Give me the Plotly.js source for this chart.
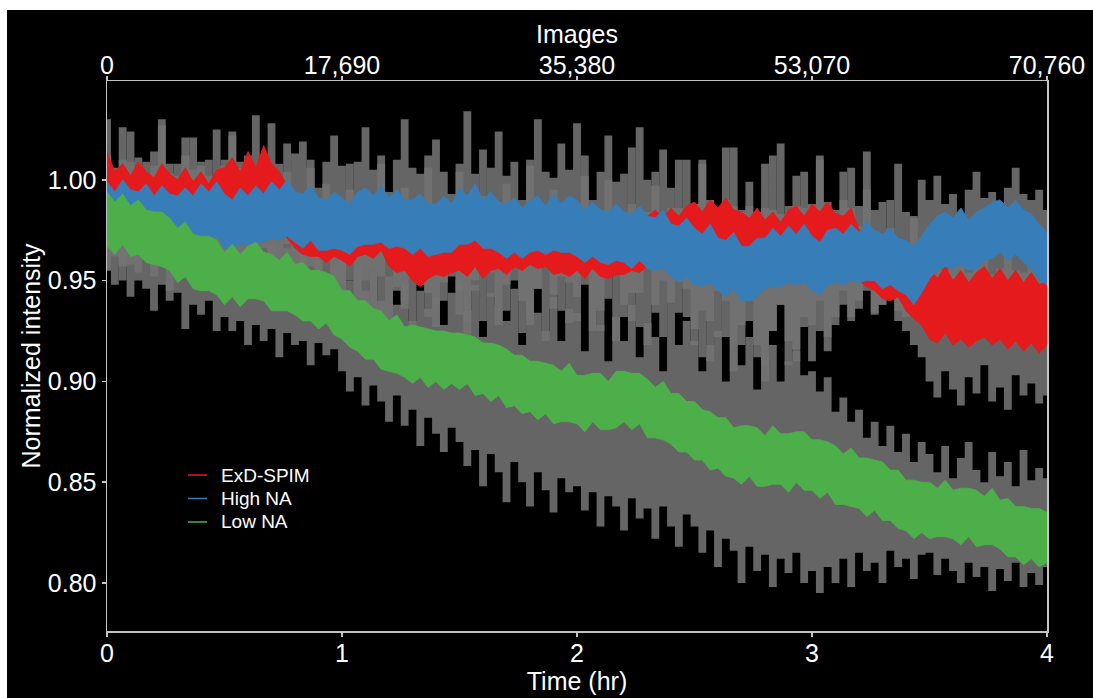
<!DOCTYPE html>
<html>
<head>
<meta charset="utf-8">
<script src="https://cdn.plot.ly/plotly-3.0.1.min.js"></script>
<style>
html,body{margin:0;padding:0;background:#ffffff;width:1093px;height:698px;overflow:hidden;}
#chart{position:absolute;left:7px;top:10px;width:1086px;height:688px;background:#000;}
</style>
</head>
<body>
<div id="chart"></div>
<script>
// time in minutes (2-minute samples, 0..240 min = 0..4 hr)
const timeMin = [0,2,4,6,8,10,12,14,16,18,20,22,24,26,28,
30,32,34,36,38,40,42,44,46,48,50,52,54,56,58,
60,62,64,66,68,70,72,74,76,78,80,82,84,86,88,
90,92,94,96,98,100,102,104,106,108,110,112,114,116,118,
120,122,124,126,128,130,132,134,136,138,140,142,144,146,148,
150,152,154,156,158,160,162,164,166,168,170,172,174,176,178,
180,182,184,186,188,190,192,194,196,198,200,202,204,206,208,
210,212,214,216,218,220,222,224,226,228,230,232,234,236,238,
240];

const seriesNames = ['ExD-SPIM','High NA','Low NA'];
const seriesColors = ['#e41a1c','#377eb8','#4daf4a'];

// ExD-SPIM: envelope of the noisy mean trace (upper / lower)
const exdHi = [1.014,1.004,1.008,1.002,1.009,1.004,1.001,1.008,1.003,1.000,1.006,0.999,1.004,0.998,1.005,
1.006,1.011,1.004,1.014,1.006,1.017,1.008,1.004,0.997,0.994,0.988,0.986,0.988,0.982,0.987,
0.983,0.978,0.985,0.987,0.982,0.989,0.980,0.978,0.981,0.974,0.972,0.975,0.979,0.974,0.980,
0.982,0.976,0.981,0.975,0.979,0.982,0.976,0.983,0.978,0.984,0.979,0.983,0.976,0.980,0.975,
0.980,0.975,0.981,0.976,0.974,0.979,0.975,0.980,0.976,0.982,0.985,0.981,0.986,0.982,0.987,
0.989,0.984,0.990,0.986,0.991,0.985,0.984,0.981,0.986,0.980,0.984,0.979,0.985,0.987,0.982,
0.988,0.984,0.989,0.983,0.982,0.986,0.975,0.973,0.969,0.968,0.965,0.970,0.961,0.960,0.956,
0.956,0.951,0.957,0.950,0.955,0.949,0.954,0.957,0.951,0.956,0.950,0.955,0.949,0.954,0.948,
0.950];
const exdLo = [0.988,0.984,0.990,0.985,0.989,0.983,0.987,0.982,0.986,0.981,0.984,0.979,0.983,0.978,0.982,
0.985,0.989,0.983,0.990,0.985,0.988,0.981,0.976,0.971,0.966,0.963,0.962,0.962,0.959,0.962,
0.960,0.957,0.962,0.963,0.961,0.965,0.957,0.954,0.955,0.950,0.947,0.951,0.953,0.952,0.954,
0.955,0.952,0.957,0.951,0.955,0.956,0.953,0.957,0.955,0.958,0.956,0.957,0.953,0.954,0.952,
0.955,0.951,0.956,0.952,0.951,0.953,0.953,0.955,0.954,0.957,0.961,0.958,0.962,0.960,0.963,
0.962,0.961,0.964,0.963,0.965,0.962,0.959,0.958,0.960,0.957,0.958,0.957,0.960,0.962,0.959,
0.963,0.960,0.964,0.959,0.958,0.959,0.950,0.947,0.945,0.941,0.940,0.942,0.935,0.931,0.928,
0.921,0.919,0.924,0.918,0.921,0.917,0.920,0.922,0.918,0.921,0.916,0.920,0.915,0.919,0.914,
0.918];
// ExD-SPIM: spread band (upper / lower)
const exdBandHi = [1.030,1.006,1.010,1.024,1.004,1.009,1.007,1.027,1.003,1.008,1.021,1.005,1.009,1.002,1.025,
1.007,1.022,1.009,1.012,1.032,1.008,1.000,0.996,1.018,0.988,0.986,1.010,0.984,0.998,0.985,
0.983,1.008,0.984,0.986,0.981,1.012,0.985,0.979,0.996,0.976,0.978,1.006,0.977,0.980,0.974,
1.004,0.980,0.978,1.015,0.981,0.976,0.998,0.982,0.979,1.010,0.977,0.981,0.995,0.978,0.980,
0.979,1.012,0.981,0.977,1.000,0.980,0.978,1.016,0.982,0.984,1.004,0.983,0.986,1.010,0.985,
0.988,1.008,0.990,0.986,1.016,0.987,0.985,0.999,0.984,0.986,1.012,0.983,0.987,1.002,0.986,
0.987,1.010,0.989,0.985,1.004,0.986,0.977,0.995,0.972,0.970,0.990,0.968,0.963,0.982,0.960,
0.957,0.975,0.955,0.958,0.970,0.954,0.957,0.972,0.953,0.956,0.968,0.955,0.954,0.970,0.952,
0.955];
const exdBandLo = [0.962,0.970,0.958,0.966,0.960,0.972,0.956,0.964,0.968,0.955,0.963,0.970,0.958,0.961,0.966,
0.962,0.955,0.968,0.960,0.957,0.966,0.950,0.955,0.946,0.952,0.942,0.950,0.938,0.947,0.940,
0.936,0.950,0.930,0.938,0.955,0.933,0.928,0.945,0.936,0.925,0.948,0.932,0.927,0.940,0.952,
0.933,0.922,0.945,0.930,0.954,0.928,0.935,0.950,0.924,0.931,0.946,0.920,0.936,0.952,0.929,
0.930,0.948,0.925,0.935,0.952,0.920,0.932,0.944,0.927,0.918,0.938,0.950,0.926,0.934,0.946,
0.918,0.935,0.910,0.922,0.940,0.905,0.918,0.930,0.912,0.900,0.925,0.938,0.908,0.916,0.932,
0.910,0.925,0.915,0.928,0.938,0.932,0.940,0.945,0.934,0.938,0.942,0.930,0.925,0.918,0.912,
0.900,0.892,0.905,0.896,0.888,0.902,0.894,0.908,0.890,0.897,0.886,0.903,0.893,0.899,0.889,
0.893];

// High NA
const highHi = [0.999,0.994,1.000,0.995,0.994,0.998,0.992,0.997,0.993,0.992,0.996,0.992,0.998,0.994,0.999,
0.993,0.990,0.996,0.992,0.997,0.993,0.999,0.995,1.000,0.994,0.993,0.997,0.991,0.990,0.994,
0.991,0.988,0.994,0.996,0.992,0.997,0.991,0.995,0.990,0.990,0.993,0.988,0.988,0.992,0.988,
0.996,0.992,0.998,0.990,0.994,0.989,0.988,0.991,0.986,0.990,0.992,0.987,0.993,0.988,0.992,
0.990,0.985,0.989,0.985,0.984,0.988,0.984,0.983,0.987,0.982,0.981,0.985,0.978,0.977,0.981,
0.976,0.973,0.978,0.971,0.970,0.974,0.967,0.967,0.971,0.971,0.976,0.972,0.977,0.973,0.978,
0.972,0.969,0.975,0.976,0.973,0.978,0.974,0.979,0.975,0.973,0.976,0.971,0.970,0.967,0.972,
0.978,0.982,0.984,0.981,0.986,0.980,0.984,0.986,0.989,0.990,0.986,0.990,0.985,0.983,0.978,
0.974];
const highLo = [0.972,0.969,0.973,0.968,0.968,0.970,0.967,0.969,0.968,0.965,0.969,0.966,0.971,0.968,0.972,
0.966,0.966,0.968,0.968,0.969,0.969,0.971,0.970,0.972,0.969,0.966,0.970,0.965,0.965,0.966,
0.965,0.963,0.967,0.968,0.968,0.969,0.966,0.967,0.966,0.963,0.966,0.962,0.963,0.964,0.964,
0.968,0.968,0.970,0.966,0.966,0.964,0.961,0.964,0.961,0.964,0.965,0.963,0.965,0.964,0.964,
0.962,0.959,0.962,0.959,0.958,0.960,0.959,0.956,0.960,0.956,0.955,0.956,0.952,0.949,0.952,
0.948,0.947,0.949,0.945,0.942,0.946,0.940,0.940,0.942,0.946,0.947,0.947,0.949,0.948,0.949,
0.945,0.943,0.948,0.949,0.948,0.950,0.949,0.950,0.950,0.946,0.948,0.945,0.943,0.938,0.944,
0.951,0.955,0.957,0.956,0.958,0.955,0.956,0.960,0.961,0.964,0.960,0.963,0.959,0.956,0.950,
0.948];
const highBandHi = [1.012,1.003,1.026,1.009,1.011,0.998,1.014,1.030,1.008,1.002,1.012,1.021,1.007,1.010,0.999,
1.010,1.024,1.006,1.009,0.997,1.011,1.028,1.008,1.004,1.013,1.019,1.006,0.996,1.009,1.022,
1.007,0.995,1.009,1.026,1.005,1.008,0.994,1.010,1.030,1.006,1.003,1.012,1.020,1.004,0.993,
1.008,1.034,1.003,0.992,1.006,1.024,1.002,1.009,0.990,1.007,1.030,1.004,1.001,1.018,1.005,
1.028,1.002,0.990,1.004,1.022,0.999,1.003,0.988,1.026,1.000,0.997,1.015,0.996,0.986,1.010,
0.988,1.010,0.985,0.975,0.990,1.016,0.984,0.987,0.972,1.008,0.985,1.018,0.983,0.987,1.004,
0.988,1.012,0.986,0.977,0.990,1.006,0.987,1.014,0.985,0.989,0.976,1.008,0.984,0.981,1.000,
0.990,1.002,0.988,0.993,0.980,0.995,1.004,0.991,0.994,0.982,0.996,1.006,0.993,0.990,0.995,
0.985];
const highBandLo = [0.955,0.962,0.950,0.958,0.954,0.966,0.952,0.957,0.945,0.956,0.963,0.953,0.950,0.958,0.955,
0.950,0.958,0.945,0.953,0.965,0.951,0.948,0.955,0.968,0.950,0.947,0.957,0.943,0.966,0.950,
0.948,0.962,0.945,0.950,0.935,0.952,0.966,0.947,0.940,0.951,0.963,0.944,0.938,0.949,0.960,
0.945,0.930,0.950,0.962,0.942,0.938,0.948,0.965,0.940,0.928,0.946,0.960,0.943,0.935,0.949,
0.942,0.958,0.936,0.925,0.941,0.955,0.938,0.930,0.944,0.957,0.934,0.922,0.939,0.950,0.932,
0.926,0.912,0.930,0.945,0.922,0.915,0.928,0.940,0.918,0.908,0.925,0.938,0.920,0.910,0.927,
0.928,0.940,0.922,0.932,0.945,0.930,0.936,0.948,0.933,0.938,0.950,0.935,0.932,0.945,0.930,
0.940,0.945,0.938,0.948,0.942,0.946,0.939,0.950,0.944,0.947,0.941,0.949,0.943,0.938,0.935,
0.932];

// Low NA
const lowHi = [0.994,0.989,0.993,0.987,0.990,0.985,0.984,0.984,0.981,0.976,0.979,0.973,0.972,0.972,0.970,
0.964,0.968,0.963,0.967,0.969,0.964,0.963,0.960,0.964,0.958,0.959,0.955,0.955,0.954,0.952,
0.945,0.945,0.940,0.940,0.936,0.935,0.930,0.933,0.927,0.928,0.927,0.926,0.925,0.925,0.924,
0.924,0.923,0.922,0.919,0.919,0.918,0.916,0.913,0.913,0.910,0.910,0.909,0.908,0.905,0.909,
0.903,0.903,0.904,0.904,0.900,0.905,0.905,0.904,0.904,0.901,0.897,0.900,0.894,0.894,0.890,
0.890,0.886,0.885,0.882,0.882,0.877,0.878,0.878,0.877,0.873,0.878,0.874,0.874,0.875,0.875,
0.871,0.871,0.870,0.868,0.864,0.867,0.862,0.862,0.861,0.860,0.856,0.856,0.851,0.851,0.850,
0.850,0.847,0.851,0.846,0.847,0.847,0.846,0.843,0.847,0.841,0.842,0.838,0.838,0.837,0.837,
0.835];
const lowLo = [0.967,0.963,0.968,0.962,0.963,0.959,0.958,0.957,0.955,0.949,0.952,0.946,0.945,0.945,0.943,
0.938,0.942,0.937,0.941,0.941,0.940,0.935,0.935,0.935,0.933,0.930,0.930,0.926,0.929,0.923,
0.921,0.917,0.915,0.911,0.911,0.906,0.905,0.904,0.902,0.899,0.902,0.897,0.900,0.896,0.899,
0.896,0.899,0.893,0.894,0.890,0.893,0.887,0.888,0.884,0.885,0.881,0.884,0.879,0.880,0.880,
0.879,0.875,0.880,0.876,0.876,0.877,0.880,0.876,0.879,0.872,0.872,0.871,0.869,0.865,0.865,
0.861,0.861,0.856,0.857,0.853,0.852,0.849,0.853,0.848,0.848,0.849,0.849,0.845,0.850,0.846,
0.846,0.842,0.845,0.839,0.839,0.838,0.837,0.833,0.836,0.831,0.831,0.827,0.826,0.822,0.825,
0.822,0.823,0.823,0.822,0.819,0.823,0.818,0.819,0.819,0.817,0.813,0.813,0.809,0.812,0.808,
0.810];
const lowBandHi = [1.000,0.992,0.996,0.990,0.994,0.985,0.990,0.983,0.987,0.978,0.984,0.975,0.980,0.972,0.977,
0.972,0.965,0.975,0.966,0.970,0.962,0.968,0.960,0.966,0.957,0.963,0.955,0.960,0.952,0.958,
0.962,0.950,0.958,0.945,0.955,0.940,0.952,0.938,0.948,0.930,0.945,0.936,0.942,0.928,0.944,
0.950,0.935,0.948,0.922,0.944,0.938,0.930,0.946,0.918,0.940,0.934,0.925,0.942,0.920,0.936,
0.934,0.915,0.936,0.928,0.910,0.932,0.920,0.938,0.912,0.929,0.922,0.905,0.926,0.918,0.930,
0.920,0.905,0.918,0.925,0.900,0.915,0.908,0.922,0.896,0.912,0.918,0.900,0.910,0.915,0.903,
0.905,0.895,0.902,0.885,0.892,0.880,0.886,0.872,0.880,0.868,0.878,0.865,0.874,0.860,0.870,
0.864,0.855,0.868,0.852,0.862,0.870,0.856,0.850,0.865,0.853,0.860,0.848,0.866,0.851,0.857,
0.852];
const lowBandLo = [0.955,0.948,0.957,0.942,0.950,0.946,0.935,0.948,0.940,0.944,0.926,0.938,0.933,0.940,0.925,
0.932,0.925,0.930,0.918,0.928,0.920,0.926,0.912,0.924,0.918,0.920,0.908,0.919,0.913,0.916,
0.905,0.895,0.902,0.888,0.898,0.890,0.880,0.893,0.878,0.886,0.868,0.882,0.874,0.865,0.877,
0.870,0.858,0.866,0.848,0.864,0.855,0.840,0.860,0.850,0.838,0.855,0.846,0.835,0.852,0.845,
0.848,0.836,0.845,0.828,0.843,0.838,0.826,0.842,0.832,0.837,0.822,0.838,0.828,0.818,0.834,
0.828,0.815,0.826,0.808,0.822,0.816,0.800,0.818,0.806,0.814,0.798,0.812,0.805,0.815,0.800,
0.806,0.795,0.808,0.800,0.812,0.798,0.815,0.806,0.810,0.800,0.816,0.808,0.812,0.802,0.814,
0.815,0.804,0.812,0.806,0.800,0.810,0.803,0.808,0.796,0.807,0.801,0.810,0.798,0.805,0.799,
0.808];

// axis tick labels
const timeTickVals = [0,60,120,180,240];
const timeTickText = ['0','1','2','3','4'];
const imageTickVals = [0,17690,35380,53070,70760];
const imageTickText = ['0','17,690','35,380','53,070','70,760'];
const yTickVals = [0.80,0.85,0.90,0.95,1.00];

const bandLo = [exdBandLo, highBandLo, lowBandLo];
const bandHi = [exdBandHi, highBandHi, lowBandHi];
const lineLo = [exdLo, highLo, lowLo];
const lineHi = [exdHi, highHi, lowHi];

const GRAY = 'rgba(115,115,115,0.88)';
const traces = [];
for (let k = 0; k < 3; k++) {
  traces.push({x: timeMin, y: bandLo[k], type: 'scatter', mode: 'lines',
    line: {width: 0, color: GRAY, shape: 'hvh'}, hoverinfo: 'skip', showlegend: false});
  traces.push({x: timeMin, y: bandHi[k], type: 'scatter', mode: 'lines', fill: 'tonexty',
    fillcolor: GRAY, line: {width: 0, color: GRAY, shape: 'hvh'}, hoverinfo: 'skip', showlegend: false});
}
for (let k = 0; k < 3; k++) {
  traces.push({x: timeMin, y: lineLo[k], type: 'scatter', mode: 'lines',
    line: {width: 0.8, color: seriesColors[k]}, hoverinfo: 'skip', showlegend: false});
  traces.push({x: timeMin, y: lineHi[k], type: 'scatter', mode: 'lines', fill: 'tonexty',
    fillcolor: seriesColors[k], line: {width: 0.8, color: seriesColors[k]},
    name: seriesNames[k], hoverinfo: 'skip', showlegend: false});
}
// invisible trace to bind the top (Images) axis
traces.push({x: [imageTickVals[0], imageTickVals[4]], y: [null, null], xaxis: 'x2', yaxis: 'y',
  type: 'scatter', mode: 'lines', hoverinfo: 'skip', showlegend: false});

const FONT = 'Liberation Sans, Arial, sans-serif';
const AX = '#c4c4c4';
const FS = 25;

// manual legend (lines + labels)
const legY = [0.2836, 0.2409, 0.1982];
const shapes = [];
const annotations = [];
for (let k = 0; k < 3; k++) {
  shapes.push({type: 'line', xref: 'paper', yref: 'paper', x0: 0.0862, x1: 0.1064,
    y0: legY[k], y1: legY[k], line: {color: seriesColors[k], width: 1.5}});
  annotations.push({xref: 'paper', yref: 'paper', x: 0.1191, y: legY[k], xanchor: 'left',
    yanchor: 'middle', showarrow: false, text: seriesNames[k],
    font: {family: FONT, size: 19, color: '#ffffff'}});
}

const layout = {
  width: 1086, height: 688,
  paper_bgcolor: '#000000', plot_bgcolor: '#000000',
  margin: {l: 100, r: 46, t: 71, b: 67, pad: 0},
  showlegend: false,
  font: {family: FONT, color: '#ffffff', size: FS},
  xaxis: {range: [0, 240], tickvals: timeTickVals, ticktext: timeTickText,
    ticks: 'outside', ticklen: 4, tickwidth: 1.5, tickcolor: AX, ticklabelstandoff: -5,
    showline: true, linecolor: AX, linewidth: 1.5, showgrid: false, zeroline: false,
    tickfont: {family: FONT, size: FS, color: '#ffffff'},
    title: {text: 'Time (hr)', font: {family: FONT, size: FS, color: '#ffffff'}, standoff: 0},
    automargin: false},
  xaxis2: {overlaying: 'x', side: 'top', anchor: 'y', range: [0, 70760],
    tickvals: imageTickVals, ticktext: imageTickText,
    ticks: 'outside', ticklen: 4, tickwidth: 1.5, tickcolor: AX, ticklabelstandoff: -8,
    showline: true, linecolor: AX, linewidth: 1.5, showgrid: false, zeroline: false,
    tickfont: {family: FONT, size: FS, color: '#ffffff'},
    title: {text: 'Images', font: {family: FONT, size: FS, color: '#ffffff'}, standoff: 0},
    automargin: false},
  yaxis: {range: [0.7762, 1.049], tickvals: yTickVals, tickformat: '.2f',
    ticks: 'outside', ticklen: 4, tickwidth: 1.5, tickcolor: AX,
    showline: true, mirror: true, linecolor: AX, linewidth: 1.5, showgrid: false, zeroline: false,
    tickfont: {family: FONT, size: FS, color: '#ffffff'},
    title: {text: 'Normalized intensity', font: {family: FONT, size: FS, color: '#ffffff'}, standoff: 0},
    automargin: false},
  shapes: shapes,
  annotations: annotations
};

Plotly.newPlot('chart', traces, layout, {staticPlot: true, displayModeBar: false});
</script>
</body>
</html>
